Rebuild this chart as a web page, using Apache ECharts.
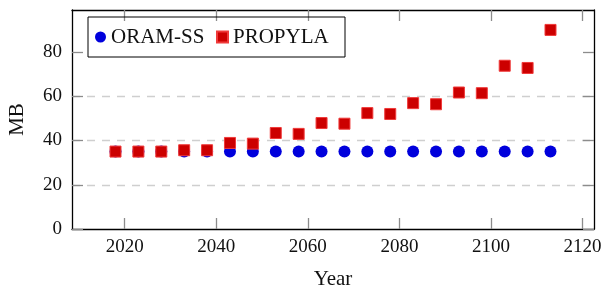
<!DOCTYPE html>
<html>
<head>
<meta charset="utf-8">
<script src="https://cdn.jsdelivr.net/npm/echarts@6/dist/echarts.min.js"></script>
<style>
  html, body { margin: 0; padding: 0; background: #fff; }
  #chart { width: 605px; height: 291px; }
</style>
</head>
<body>
<div id="chart"></div>
<script>
// data
const years = [2018, 2023, 2028, 2033, 2038, 2043, 2048, 2053, 2058, 2063,
               2068, 2073, 2078, 2083, 2088, 2093, 2098, 2103, 2108, 2113];
const oramSS = [35, 35, 35, 35, 35, 35, 35, 35, 35, 35,
                35, 35, 35, 35, 35, 35, 35, 35, 35, 35];
const propyla = [35, 35, 35, 35.6, 35.6, 38.9, 38.6, 43.4, 43, 47.9,
                 47.6, 52.4, 52, 56.9, 56.4, 61.7, 61.4, 73.8, 72.8, 90];
const xTicks = [2020, 2040, 2060, 2080, 2100, 2120];
const yTicks = [0, 20, 40, 60, 80];

let font = 'Liberation Serif';
let chart = echarts.init(document.getElementById('chart'));

function pairs(xs, ys) {
    return xs.map(function (x, i) { return [x, ys[i]]; });
}

let tickStyle = { show: true, inside: true, length: 11, lineStyle: { color: '#8c8c8c', width: 1.3 } };
let boxLine = { show: true, onZero: false, lineStyle: { color: '#000', width: 1.3 } };

chart.setOption({
    animation: false,
    backgroundColor: '#fff',
    grid: { left: 72, right: 11, top: 10, bottom: 62, containLabel: false, outerBoundsMode: 'none' },
    legend: {
        left: 88, top: 17,
        orient: 'horizontal',
        padding: [9, 14, 9, 7],
        borderColor: '#000', borderWidth: 1,
        itemWidth: 11, itemHeight: 11, itemGap: 7,
        textStyle: { fontFamily: font, fontSize: 21, color: '#111', lineHeight: 22, width: 98 },
        data: [
            { name: 'ORAM-SS', icon: 'circle' },
            { name: 'PROPYLA', icon: 'rect' }
        ]
    },
    xAxis: [
        {
            type: 'value', min: 2008.5, max: 2122.5,
            name: 'Year', nameLocation: 'middle', nameGap: 40,
            nameTextStyle: { fontFamily: font, fontSize: 21, color: '#111' },
            axisLine: boxLine,
            axisTick: Object.assign({ customValues: xTicks }, tickStyle),
            axisLabel: {
                customValues: xTicks, margin: 9, fontFamily: font, fontSize: 19, color: '#111',
                formatter: function (v) { return String(v); }
            },
            splitLine: { show: false }
        },
        {
            type: 'value', position: 'top', min: 2008.5, max: 2122.5,
            axisLine: boxLine,
            axisTick: Object.assign({ customValues: xTicks }, tickStyle),
            axisLabel: { show: false },
            splitLine: { show: false }
        }
    ],
    yAxis: [
        {
            type: 'value', min: 0, max: 99, interval: 20,
            name: 'MB', nameLocation: 'middle', nameGap: 44,
            nameTextStyle: { fontFamily: font, fontSize: 21, color: '#111' },
            axisLine: boxLine,
            axisTick: Object.assign({ customValues: yTicks }, tickStyle),
            axisLabel: { customValues: yTicks, margin: 10, fontFamily: font, fontSize: 19, color: '#111' },
            splitLine: {
                show: true, showMinLine: false, showMaxLine: false,
                lineStyle: { color: '#cfcfcf', width: 1.3, type: [8, 7] }
            }
        },
        {
            type: 'value', position: 'right', min: 0, max: 99, interval: 20,
            axisLine: boxLine,
            axisTick: Object.assign({ customValues: yTicks }, tickStyle),
            axisLabel: { show: false },
            splitLine: { show: false }
        }
    ],
    series: [
        {
            name: 'ORAM-SS',
            type: 'scatter',
            symbol: 'circle',
            symbolSize: 12,
            itemStyle: { color: '#0000dc', opacity: 1 },
            data: pairs(years, oramSS)
        },
        {
            name: 'PROPYLA',
            type: 'scatter',
            symbol: 'rect',
            symbolSize: 11,
            itemStyle: { color: '#cc0000', borderColor: '#f03a3a', borderWidth: 1, opacity: 1 },
            data: pairs(years, propyla)
        }
    ]
});
</script>
</body>
</html>
